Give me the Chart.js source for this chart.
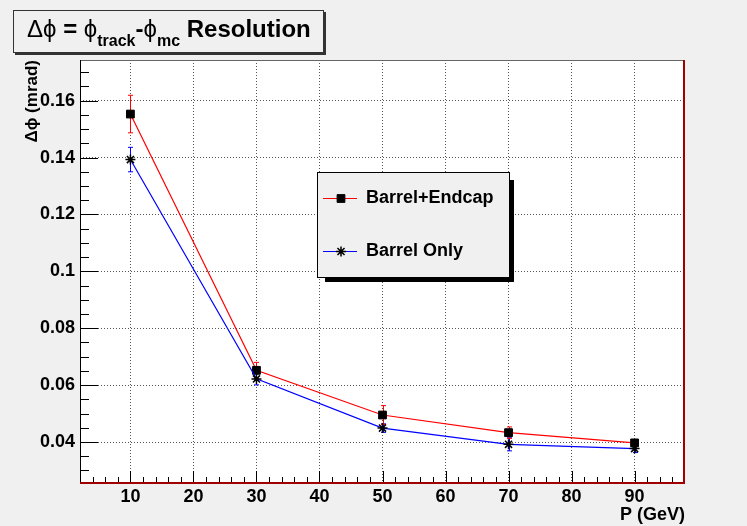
<!DOCTYPE html>
<html>
<head>
<meta charset="utf-8">
<script src="https://cdn.jsdelivr.net/npm/chart.js@4.4.0/dist/chart.umd.min.js"></script>
<style>
  html, body { margin: 0; padding: 0; background: #f0f0f0; }
  canvas { display: block; }
</style>
</head>
<body>
<canvas id="c" width="747" height="526"></canvas>
<script>
// values
const momenta = [10, 30, 50, 70, 90];
const barrelEndcap = [0.1553, 0.0652, 0.0495, 0.0433, 0.0397];
const barrelEndcapErr = [0.0066, 0.0028, 0.0033, 0.0020, 0.0008];
const barrelOnly = [0.1393, 0.0622, 0.0449, 0.0392, 0.0377];
const barrelOnlyErr = [0.0043, 0.0021, 0.0015, 0.0023, 0.0014];
const xTicks = [10, 20, 30, 40, 50, 60, 70, 80, 90];
const yTicks = [0.04, 0.06, 0.08, 0.1, 0.12, 0.14, 0.16];

const FONT = '"Liberation Sans", Arial, Helvetica, sans-serif';
const boldFont = size => ({ family: FONT, size: size, weight: 'bold' });

const toPoints = (xs, ys) => xs.map((x, i) => ({ x: x, y: ys[i] }));

// background + white frame
const bgPlugin = {
  id: 'bg',
  beforeDraw(chart) {
    const { ctx, chartArea: a } = chart;
    ctx.save();
    ctx.fillStyle = '#f0f0f0';
    ctx.fillRect(0, 0, chart.width, chart.height);
    ctx.fillStyle = '#ffffff';
    ctx.fillRect(a.left, a.top, a.right - a.left, a.bottom - a.top);
    ctx.restore();
  }
};

// vertical error bars, under the markers
const errorBars = {
  id: 'errorBars',
  beforeDatasetsDraw(chart) {
    const { ctx, scales: { x, y } } = chart;
    ctx.save();
    ctx.lineWidth = 1;
    chart.data.datasets.forEach(ds => {
      ctx.strokeStyle = ds.borderColor;
      ds.data.forEach((p, i) => {
        const px = Math.round(x.getPixelForValue(p.x)) + 0.5;
        const top = y.getPixelForValue(p.y + ds.errors[i]);
        const bot = y.getPixelForValue(p.y - ds.errors[i]);
        ctx.beginPath();
        ctx.moveTo(px, top); ctx.lineTo(px, bot);
        ctx.moveTo(px - 2.5, top); ctx.lineTo(px + 2.5, top);
        ctx.moveTo(px - 2.5, bot); ctx.lineTo(px + 2.5, bot);
        ctx.stroke();
      });
    });
    ctx.restore();
  }
};

// ticks inside the frame, frame lines, title box and legend
const decorations = {
  id: 'decorations',
  afterDraw(chart) {
    const { ctx, chartArea: a, scales: { x, y } } = chart;
    ctx.save();
    ctx.strokeStyle = '#000';
    ctx.lineWidth = 1;

    // y ticks
    ctx.beginPath();
    for (let v = 0.03; v <= y.max; v += 0.005) {
      const py = Math.round(y.getPixelForValue(v)) + 0.5;
      const major = yTicks.some(t => Math.abs(t - v) < 1e-6);
      ctx.moveTo(a.left, py);
      ctx.lineTo(a.left + (major ? 18 : 9), py);
    }
    // x ticks
    for (let v = 4; v < x.max; v += 2) {
      const px = Math.round(x.getPixelForValue(v)) + 0.5;
      const major = xTicks.includes(v);
      ctx.moveTo(px, a.bottom);
      ctx.lineTo(px, a.bottom - (major ? 12 : 6));
    }
    ctx.stroke();

    // frame
    ctx.strokeStyle = '#666';
    ctx.beginPath();
    ctx.moveTo(a.left, a.top + 0.5); ctx.lineTo(a.right, a.top + 0.5);
    ctx.stroke();
    ctx.strokeStyle = '#000';
    ctx.beginPath();
    ctx.moveTo(a.left + 0.5, a.top); ctx.lineTo(a.left + 0.5, a.bottom);
    ctx.stroke();
    ctx.strokeStyle = '#a00000';
    ctx.lineWidth = 2;
    ctx.beginPath();
    ctx.moveTo(a.left, a.bottom); ctx.lineTo(a.right, a.bottom);
    ctx.moveTo(a.right - 1, a.top); ctx.lineTo(a.right - 1, a.bottom);
    ctx.stroke();

    // title box
    ctx.fillStyle = '#f0f0f0';
    ctx.fillRect(13, 10, 311, 43);
    ctx.fillStyle = '#333';
    ctx.fillRect(324, 12, 2, 43);
    ctx.fillRect(15, 53, 311, 2);
    ctx.strokeStyle = '#333';
    ctx.lineWidth = 1;
    ctx.strokeRect(13.5, 10.5, 310, 42);

    const pieces = [
      ['\u0394\u03d5', 'normal 24px ' + FONT, 0],
      [' = ', 'bold 24px ' + FONT, 0],
      ['\u03d5', 'normal 24px ' + FONT, 0],
      ['track', 'bold 16px ' + FONT, 9],
      ['-', 'bold 24px ' + FONT, 0],
      ['\u03d5', 'normal 24px ' + FONT, 0],
      ['mc', 'bold 16px ' + FONT, 9],
      [' Resolution', 'bold 24px ' + FONT, 0]
    ];
    ctx.fillStyle = '#000';
    ctx.textBaseline = 'alphabetic';
    ctx.textAlign = 'left';
    let tx = 27;
    pieces.forEach(([t, f, dy]) => {
      ctx.font = f;
      ctx.fillText(t, tx, 37 + dy);
      tx += ctx.measureText(t).width;
    });

    // legend
    const lx = 317, ly = 172, lw = 192, lh = 105;
    ctx.fillStyle = '#000';
    ctx.fillRect(lx + 8, ly + 8, lw - 3, lh - 3);
    ctx.fillStyle = '#f0f0f0';
    ctx.fillRect(lx, ly, lw, lh);
    ctx.strokeStyle = '#000';
    ctx.strokeRect(lx + 0.5, ly + 0.5, lw, lh);

    const rows = [chart.data.datasets[1], chart.data.datasets[0]];
    rows.forEach((ds, i) => {
      const ry = 198 + i * 53;
      ctx.strokeStyle = ds.borderColor;
      ctx.lineWidth = 1.2;
      ctx.beginPath();
      ctx.moveTo(323, ry + 0.5); ctx.lineTo(357, ry + 0.5);
      ctx.stroke();
      ctx.fillStyle = '#000';
      ctx.strokeStyle = '#000';
      ctx.lineWidth = ds.pointBorderWidth;
      Chart.helpers.drawPoint(ctx, {
        pointStyle: ds.pointStyle, radius: ds.pointRadius, rotation: 0,
        borderWidth: ds.pointBorderWidth
      }, 341, ry + 0.5);
      ctx.font = 'bold 18px ' + FONT;
      ctx.textBaseline = 'middle';
      ctx.fillText(ds.label, 366, ry);
    });
    ctx.restore();
  }
};

new Chart(document.getElementById('c'), {
  type: 'line',
  data: {
    datasets: [
      {
        label: 'Barrel Only',
        data: toPoints(momenta, barrelOnly),
        errors: barrelOnlyErr,
        borderColor: '#0000ff',
        borderWidth: 1.2,
        pointStyle: 'star',
        pointRadius: 5,
        pointBorderWidth: 1.5,
        pointBorderColor: '#000',
        pointBackgroundColor: '#000',
        tension: 0,
        order: 0
      },
      {
        label: 'Barrel+Endcap',
        data: toPoints(momenta, barrelEndcap),
        errors: barrelEndcapErr,
        borderColor: '#ff0000',
        borderWidth: 1.2,
        pointStyle: 'rect',
        pointRadius: 5.5,
        pointBorderWidth: 1,
        pointBorderColor: '#000',
        pointBackgroundColor: '#000',
        tension: 0,
        order: 1
      }
    ]
  },
  options: {
    responsive: false,
    animation: false,
    layout: { padding: { top: 60, right: 62, left: 0, bottom: 0 } },
    plugins: {
      legend: { display: false },
      tooltip: { enabled: false },
      title: { display: false }
    },
    scales: {
      x: {
        type: 'linear',
        min: 2,
        max: 98,
        afterBuildTicks: s => { s.ticks = xTicks.map(v => ({ value: v })); },
        afterFit: s => { s.height = 43; },
        grid: { color: '#555', lineWidth: 1, drawTicks: false },
        border: { display: false, dash: [1, 2] },
        ticks: { color: '#000', font: boldFont(18), padding: 3, maxRotation: 0, autoSkip: false },
        title: { display: true, text: 'P (GeV)', align: 'end', color: '#000', font: boldFont(18), padding: { top: 0, bottom: 0 } }
      },
      y: {
        type: 'linear',
        min: 0.0256,
        max: 0.1743,
        afterBuildTicks: s => { s.ticks = yTicks.map(v => ({ value: v })); },
        afterFit: s => { s.width = 80; },
        grid: { color: '#555', lineWidth: 1, drawTicks: false },
        border: { display: false, dash: [1, 2] },
        ticks: { color: '#000', font: boldFont(18), padding: 5, callback: v => String(+v.toFixed(3)) },
        title: { display: true, text: '\u0394\u03d5 (mrad)', align: 'end', color: '#000', font: boldFont(17), padding: { top: 22, bottom: 0 } }
      }
    }
  },
  plugins: [bgPlugin, errorBars, decorations]
});
</script>
</body>
</html>
